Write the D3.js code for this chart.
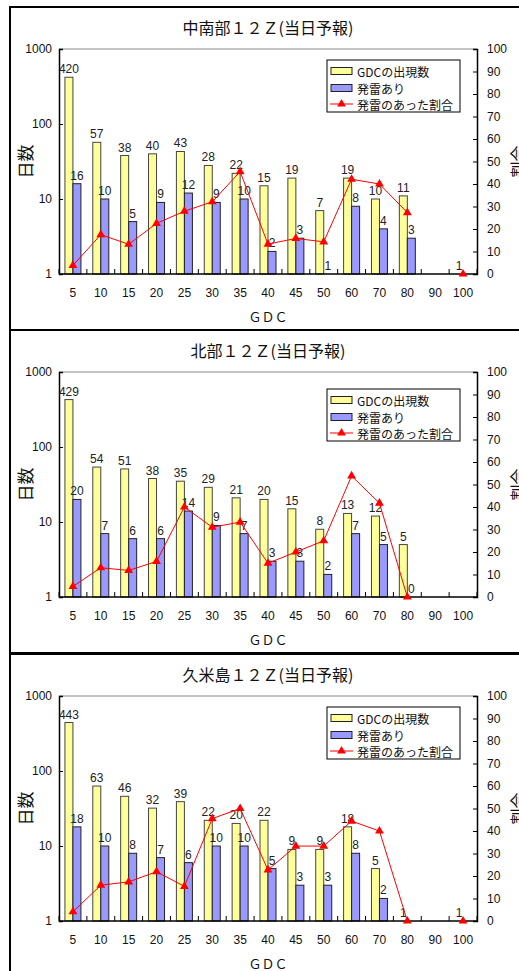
<!DOCTYPE html>
<html>
<head>
<meta charset="utf-8">
<script src="https://cdn.jsdelivr.net/npm/d3@7"></script>
<style>
  html, body { margin: 0; padding: 0; background: #fff; }
  svg { display: block; }
</style>
</head>
<body>
<svg id="chart" width="519" height="971"></svg>
<script>
// GDC classes along the category axis
const categories = ["5", "10", "15", "20", "25", "30", "35", "40", "45", "50", "60", "70", "80", "90", "100"];
const countTicks = [1, 10, 100, 1000];
const ratioTicks = [0, 10, 20, 30, 40, 50, 60, 70, 80, 90, 100];

const panelTitles = ["中南部１２Ｚ(当日予報)", "北部１２Ｚ(当日予報)", "久米島１２Ｚ(当日予報)"];
const legendLabels = ["GDCの出現数", "発雷あり", "発雷のあった割合"];

// 中南部
const gdcCentralSouth = [420, 57, 38, 40, 43, 28, 22, 15, 19, 7, 19, 10, 11, null, 1];
const thunderCentralSouth = [16, 10, 5, 9, 12, 9, 10, 2, 3, 1, 8, 4, 3, null, null];
const ratioCentralSouth = [3.8, 17.5, 13.2, 22.5, 27.9, 32.1, 45.5, 13.3, 15.8, 14.3, 42.1, 40.0, 27.3, null, 0];

// 北部
const gdcNorth = [429, 54, 51, 38, 35, 29, 21, 20, 15, 8, 13, 12, 5, null, null];
const thunderNorth = [20, 7, 6, 6, 14, 9, 7, 3, 3, 2, 7, 5, 0, null, null];
const ratioNorth = [4.7, 13.0, 11.8, 15.8, 40.0, 31.0, 33.3, 15.0, 20.0, 25.0, 53.8, 41.7, 0, null, null];

// 久米島
const gdcKume = [443, 63, 46, 32, 39, 22, 20, 22, 9, 9, 18, 5, 1, null, 1];
const thunderKume = [18, 10, 8, 7, 6, 10, 10, 5, 3, 3, 8, 2, null, null, null];
const ratioKume = [4.1, 15.9, 17.4, 21.9, 15.4, 45.5, 50.0, 22.7, 33.3, 33.3, 44.4, 40.0, 0, null, 0];

const panels = [
  { title: panelTitles[0], gdc: gdcCentralSouth, thunder: thunderCentralSouth, ratio: ratioCentralSouth, top: 7, legendDy: 53 },
  { title: panelTitles[1], gdc: gdcNorth, thunder: thunderNorth, ratio: ratioNorth, top: 330, legendDy: 59 },
  { title: panelTitles[2], gdc: gdcKume, thunder: thunderKume, ratio: ratioKume, top: 654, legendDy: 53 }
];

const svg = d3.select("#chart");
const CJK = "'Noto Sans CJK JP', 'Noto Sans', sans-serif";
const LAT = "'Liberation Sans', Arial, sans-serif";
const YELLOW = "#FFFF99", BLUE = "#9999FF", RED = "#FF0000";

const plotLeft = 59, plotRight = 477;
const x = d3.scaleBand().domain(categories).range([plotLeft, plotRight]).padding(0);
const barW = 8;

panels.forEach(p => {
  const g = svg.append("g");
  const plotTop = p.top + 42, plotBottom = p.top + 267;

  // frame around each chart
  g.append("rect")
    .attr("x", 10).attr("y", p.top)
    .attr("width", 600).attr("height", 323)
    .attr("fill", "#fff").attr("stroke", "#000").attr("stroke-width", 2);

  const y = d3.scaleLog().domain([1, 1000]).range([plotBottom, plotTop]);
  const y2 = d3.scaleLinear().domain([0, 100]).range([plotBottom, plotTop]);

  // title
  g.append("text")
    .attr("x", 268).attr("y", p.top + 20)
    .attr("text-anchor", "middle").attr("dominant-baseline", "central")
    .style("font-family", CJK).style("font-size", "16px").attr("fill", "#111")
    .text(p.title);

  // plot area top edge
  g.append("line")
    .attr("x1", plotLeft).attr("x2", plotRight)
    .attr("y1", plotTop).attr("y2", plotTop)
    .attr("stroke", "#888").attr("stroke-width", 1);

  // bars: occurrence count (yellow) and thunder days (blue)
  const rows = categories.map((c, i) => ({ c, gdc: p.gdc[i], thunder: p.thunder[i], ratio: p.ratio[i] }));

  g.selectAll(".barG").data(rows.filter(d => d.gdc != null && d.gdc > 0))
    .enter().append("rect")
    .attr("x", d => x(d.c) + x.bandwidth() / 2 - barW)
    .attr("y", d => y(d.gdc))
    .attr("width", barW)
    .attr("height", d => plotBottom - y(d.gdc))
    .attr("fill", YELLOW).attr("stroke", "#444").attr("stroke-width", 1);

  g.selectAll(".barT").data(rows.filter(d => d.thunder != null && d.thunder > 0))
    .enter().append("rect")
    .attr("x", d => x(d.c) + x.bandwidth() / 2)
    .attr("y", d => y(d.thunder))
    .attr("width", barW)
    .attr("height", d => plotBottom - y(d.thunder))
    .attr("fill", BLUE).attr("stroke", "#222").attr("stroke-width", 1);

  // axes
  const xAxis = g.append("g");
  xAxis.append("line")
    .attr("x1", plotLeft).attr("x2", plotRight)
    .attr("y1", plotBottom).attr("y2", plotBottom)
    .attr("stroke", "#000").attr("stroke-width", 1.5);
  xAxis.selectAll(".tk").data(d3.range(categories.length + 1))
    .enter().append("line")
    .attr("x1", i => plotLeft + i * x.bandwidth())
    .attr("x2", i => plotLeft + i * x.bandwidth())
    .attr("y1", plotBottom).attr("y2", plotBottom - 5)
    .attr("stroke", "#000").attr("stroke-width", 1);
  xAxis.selectAll(".lb").data(categories)
    .enter().append("text")
    .attr("x", d => x(d) + x.bandwidth() / 2)
    .attr("y", plotBottom + 19)
    .attr("text-anchor", "middle").attr("dominant-baseline", "central")
    .style("font-family", LAT).style("font-size", "12px").attr("fill", "#111")
    .text(d => d);

  const yAxis = g.append("g")
    .attr("transform", `translate(${plotLeft},0)`)
    .call(d3.axisRight(y).tickValues(countTicks).tickSize(4).tickFormat(d3.format("d")));
  yAxis.select(".domain").attr("stroke", "#000").attr("stroke-width", 1.5);
  yAxis.selectAll("text")
    .attr("x", -7).attr("text-anchor", "end")
    .style("font-family", LAT).style("font-size", "12px").attr("fill", "#111");

  const y2Axis = g.append("g")
    .attr("transform", `translate(${plotRight},0)`)
    .call(d3.axisLeft(y2).tickValues(ratioTicks).tickSize(4));
  y2Axis.select(".domain").attr("stroke", "#000").attr("stroke-width", 1.5);
  y2Axis.selectAll("text")
    .attr("x", 10).attr("text-anchor", "start")
    .style("font-family", LAT).style("font-size", "12px").attr("fill", "#111");

  // value labels
  const labelStyle = sel => sel
    .attr("text-anchor", "middle")
    .style("font-family", LAT).style("font-size", "12px").attr("fill", "#222");

  g.selectAll(".lg").data(rows.filter(d => d.gdc != null))
    .enter().append("text")
    .attr("x", d => x(d.c) + x.bandwidth() / 2 - barW / 2)
    .attr("y", d => y(Math.max(d.gdc, 1)) - 4)
    .call(labelStyle).text(d => d.gdc);

  g.selectAll(".lt").data(rows.filter(d => d.thunder != null))
    .enter().append("text")
    .attr("x", d => x(d.c) + x.bandwidth() / 2 + barW / 2)
    .attr("y", d => y(Math.max(d.thunder, 1)) - 4)
    .call(labelStyle).text(d => d.thunder);

  // ratio line with triangle markers
  const line = d3.line()
    .defined(d => d.ratio != null)
    .x(d => x(d.c) + x.bandwidth() / 2)
    .y(d => y2(d.ratio));
  g.append("path").datum(rows)
    .attr("d", line).attr("fill", "none")
    .attr("stroke", RED).attr("stroke-width", 1);
  const tri = d3.symbol().type(d3.symbolTriangle).size(34);
  g.selectAll(".mk").data(rows.filter(d => d.ratio != null))
    .enter().append("path")
    .attr("d", tri)
    .attr("transform", d => `translate(${x(d.c) + x.bandwidth() / 2},${y2(d.ratio)})`)
    .attr("fill", RED);

  // axis titles
  g.append("text")
    .attr("transform", `translate(24,${(plotTop + plotBottom) / 2}) rotate(-90)`)
    .attr("text-anchor", "middle").attr("dominant-baseline", "central")
    .style("font-family", CJK).style("font-size", "17px").attr("fill", "#111")
    .text("日数");
  g.append("text")
    .attr("transform", `translate(517,${(plotTop + plotBottom) / 2}) rotate(-90)`)
    .attr("text-anchor", "middle").attr("dominant-baseline", "central")
    .style("font-family", CJK).style("font-size", "16px").attr("fill", "#111")
    .text("割合");
  g.append("text")
    .attr("x", 268).attr("y", p.top + 309)
    .attr("text-anchor", "middle").attr("dominant-baseline", "central")
    .style("font-family", CJK).style("font-size", "13px").attr("fill", "#111")
    .text("ＧＤＣ");

  // legend
  const lx = 327, ly = p.top + p.legendDy;
  const lg = g.append("g").attr("transform", `translate(${lx},${ly})`);
  lg.append("rect").attr("width", 133).attr("height", 52)
    .attr("fill", "#fff").attr("stroke", "#000").attr("stroke-width", 1);
  const rowY = [11, 28, 44];
  lg.append("rect").attr("x", 4).attr("y", rowY[0] - 3.5).attr("width", 21).attr("height", 7)
    .attr("fill", YELLOW).attr("stroke", "#222");
  lg.append("rect").attr("x", 4).attr("y", rowY[1] - 3.5).attr("width", 21).attr("height", 7)
    .attr("fill", BLUE).attr("stroke", "#222");
  lg.append("line").attr("x1", 3).attr("x2", 26).attr("y1", rowY[2]).attr("y2", rowY[2])
    .attr("stroke", RED).attr("stroke-width", 1);
  lg.append("path").attr("d", tri).attr("transform", `translate(14.5,${rowY[2]})`).attr("fill", RED);
  lg.selectAll(".lt").data(legendLabels).enter().append("text")
    .attr("x", 30).attr("y", (d, i) => rowY[i])
    .attr("dominant-baseline", "central")
    .style("font-family", CJK).style("font-size", "12px").attr("fill", "#111")
    .text(d => d);
});
</script>
</body>
</html>
